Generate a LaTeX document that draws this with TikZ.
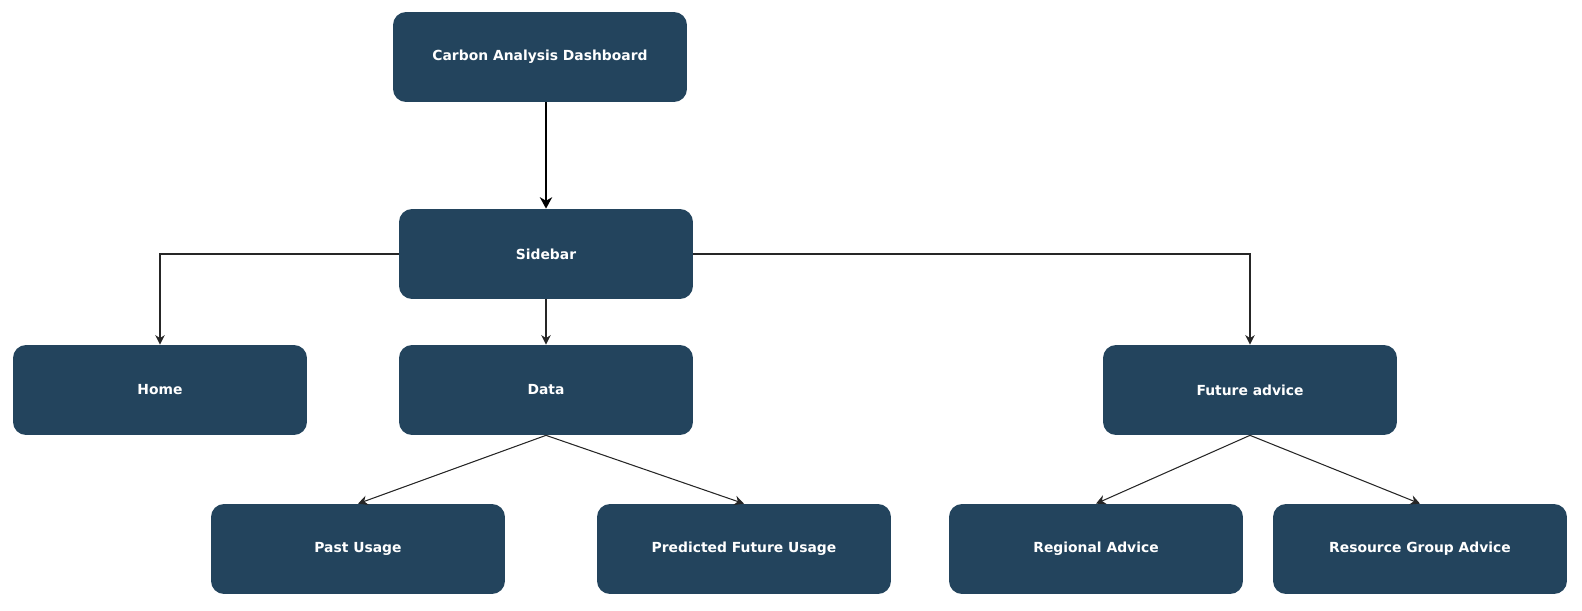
\documentclass[tikz,border=0pt]{standalone}
\usepackage{fontspec}
\setmainfont{DejaVu Sans}
\usetikzlibrary{arrows.meta}
\definecolor{boxblue}{HTML}{23445D}
\begin{document}
\begin{tikzpicture}[x=.02cm,y=-.02cm,
 menubox/.style={fill=boxblue,rounded corners=.26cm,minimum width=5.88cm,minimum height=1.8cm,text=white,font=\fontsize{7.9}{9}\selectfont\bfseries},
 link/.style={line width=.6pt,draw=black!85,-{Stealth[length=5.5pt,width=5.5pt,inset=1.8pt]}}]
\useasboundingbox (0,0) rectangle (1582,611);
\path (540,57) node[menubox] (cad) {Carbon Analysis Dashboard}
 (546,254) node[menubox] (sidebar) {Sidebar}
 (160,390) node[menubox] (home) {Home}
 (546,390) node[menubox] (data) {Data}
 (1250,390) node[menubox] (future) {Future advice}
 (358,549) node[menubox] (past) {Past Usage}
 (744,549) node[menubox] (pred) {Predicted Future Usage}
 (1096,549) node[menubox] (regional) {Regional Advice}
 (1420,549) node[menubox] (resource) {Resource Group Advice};
\draw[link,line width=1.1pt,draw=black,-{Stealth[length=6.5pt,width=7pt,inset=2pt]}] (sidebar.north |- cad.south) -- (sidebar.north);
\draw[link] (sidebar.west) -| (home.north);
\draw[link] (sidebar.east) -| (future.north);
\draw[link] (sidebar.south) -- (data.north);
\foreach \p/\c in {data/past, data/pred, future/regional, future/resource} \draw[link] (\p.south) -- (\c.north);
\end{tikzpicture}
\end{document}
